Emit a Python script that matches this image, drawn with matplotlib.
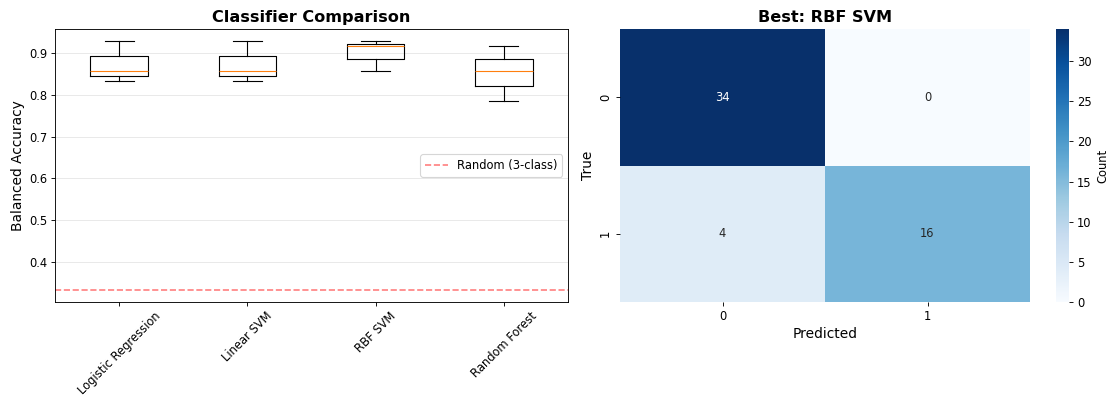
import numpy as np
import matplotlib
matplotlib.use("Agg")
import matplotlib.pyplot as plt
import seaborn as sns

# cross-validation balanced accuracy per classifier
classifiers = ["Logistic Regression", "Linear SVM", "RBF SVM", "Random Forest"]
scores_logreg = [0.833, 0.845, 0.857, 0.893, 0.929]
scores_linsvm = [0.833, 0.845, 0.857, 0.893, 0.929]
scores_rbfsvm = [0.857, 0.887, 0.917, 0.923, 0.929]
scores_rf = [0.786, 0.822, 0.857, 0.887, 0.917]
chance_level = 1.0 / 3.0

# confusion matrix of the best model
cm_labels = ["0", "1"]
conf_mat = np.array([[34, 0],
                     [4, 16]])

plt.rcParams["font.size"] = 10.35

W, H = 1114, 399
fig = plt.figure(figsize=(W / 80, H / 80), dpi=80)

def px_axes(x0, y0, x1, y1):
    # pixel box (top-left origin) -> figure fraction
    return fig.add_axes([x0 / W, 1 - y1 / H, (x1 - x0) / W, (y1 - y0) / H])

ax = px_axes(55, 29, 568, 302)
ax.boxplot([scores_logreg, scores_linsvm, scores_rbfsvm, scores_rf], tick_labels=classifiers)
ax.axhline(chance_level, color="red", linestyle="--", alpha=0.5, label="Random (3-class)")
ax.set_ylabel("Balanced Accuracy", fontsize=12.4)
ax.set_title("Classifier Comparison", fontsize=14.5, fontweight="bold")
ax.legend(loc="center right")
ax.grid(True, axis="y", alpha=0.3)
plt.setp(ax.get_xticklabels(), rotation=45)

ax2 = px_axes(620, 29, 1030, 302)
cax = px_axes(1056, 29, 1069, 302)
sns.heatmap(conf_mat, annot=True, fmt="d", cmap="Blues", ax=ax2, cbar_ax=cax,
            xticklabels=cm_labels, yticklabels=cm_labels,
            cbar_kws={"label": "Count"})
ax2.set_xlabel("Predicted", fontsize=12.4)
ax2.set_ylabel("True", fontsize=12.4)
ax2.set_title("Best: RBF SVM", fontsize=14.5, fontweight="bold")

plt.savefig("out.png", dpi=80)
